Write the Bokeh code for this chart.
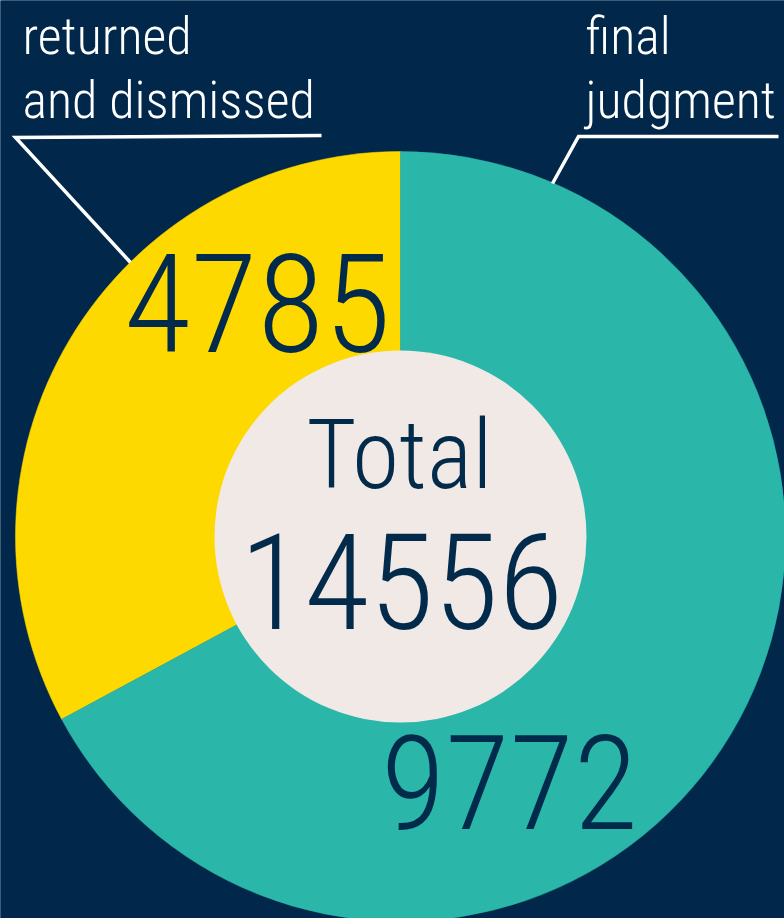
import math
from bokeh.plotting import figure
from bokeh.models import ColumnDataSource, Range1d
from bokeh.embed import file_html
from bokeh.resources import INLINE
from bokeh.core.properties import value

# ---- data ----
categories = ["returned and dismissed", "final judgment"]
counts = [4785, 9772]
label_lines = [["returned", "and dismissed"], ["final", "judgment"]]
slice_colors = ["#FDD900", "#2BB6AA"]
center_title = "Total"
total_label = 14556  # total as printed on the chart

# ---- layout / style ----
W, H = 784, 918
BG = "#01284A"
NAVY = "#012A4B"
CENTER_FILL = "#F0E9E5"
FONT = "Roboto Condensed Light"
SHIFT = 0.35  # baseline correction (fraction of font size)


def Y(py, size=0):
    return H - py + SHIFT * size


CX, CY = 400, H - 536
R_OUT, R_IN = 385, 186

p = figure(width=W, height=H, x_range=Range1d(0, W), y_range=Range1d(0, H),
           output_backend="svg", toolbar_location=None, min_border=0,
           x_axis_type=None, y_axis_type=None,
           background_fill_color=BG, border_fill_color=BG, outline_line_color=None)
p.grid.visible = False

# background cover
p.quad(left=[-20], right=[W + 20], bottom=[-20], top=[H + 20],
       fill_color=BG, line_color=None)

# wedges from data, starting at 12 o'clock, counter-clockwise
total = sum(counts)
starts, ends = [], []
a = math.pi / 2
for c in counts:
    starts.append(a)
    a += 2 * math.pi * c / total
    ends.append(a)

src = ColumnDataSource(dict(cat=categories, val=counts, start=starts, end=ends,
                            color=slice_colors, x=[CX] * 2, y=[CY] * 2))
p.wedge(x="x", y="y", radius=R_OUT, start_angle="start", end_angle="end",
        direction="anticlock", fill_color="color", line_color="color",
        line_width=0.5, source=src)

# center disc
p.scatter(x=[CX], y=[CY], size=2 * R_IN, marker="circle",
          fill_color=CENTER_FILL, line_color=None)

# value labels inside slices
VS = [137, 132]
p.text(x=[257, 509], y=[Y(350, VS[0]), Y(828, VS[1])],
       text=[str(v) for v in counts], text_font=value(FONT),
       text_font_size=[f"{s}px" for s in VS], text_color=NAVY,
       text_align="center", text_baseline="alphabetic")

# center texts
p.text(x=[399], y=[Y(488, 96)], text=[center_title], text_font=value(FONT),
       text_font_size="96px", text_color=NAVY, text_align="center",
       text_baseline="alphabetic")
p.text(x=[401], y=[Y(628, 133)], text=[str(total_label)], text_font=value(FONT),
       text_font_size="133px", text_color=NAVY, text_align="center",
       text_baseline="alphabetic")

# category labels (two lines each)
LS = 52
lab_x = [22, 585]
xs, ys, ts = [], [], []
for lx, lines in zip(lab_x, label_lines):
    xs += [lx, lx]
    ys += [Y(54, LS), Y(118, LS)]
    ts += lines
p.text(x=xs, y=ys, text=ts, text_font=value(FONT), text_font_size=f"{LS}px",
       text_color="white", text_align="left", text_baseline="alphabetic")

# leader lines
p.multi_line(xs=[[130, 15, 321], [552, 578, 778]],
             ys=[[Y(262), Y(137), Y(135)], [Y(183), Y(136), Y(136)]],
             line_color="white", line_width=3.5, line_join="miter")

open("out.html", "w").write(file_html(p, INLINE))
